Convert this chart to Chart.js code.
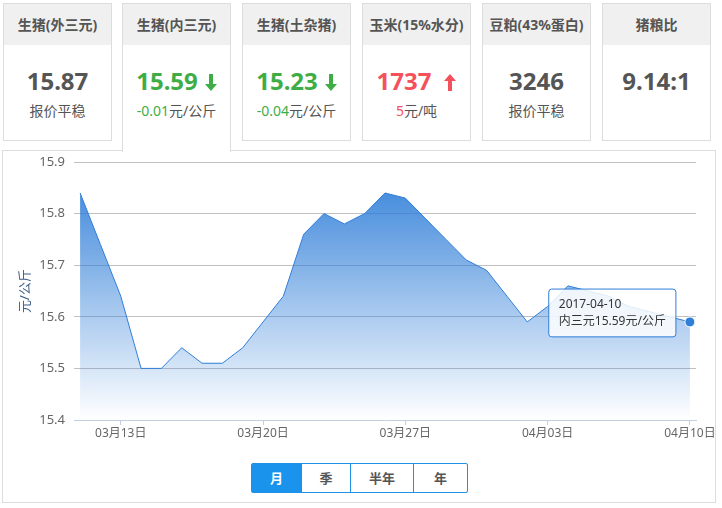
<!DOCTYPE html>
<html>
<head>
<meta charset="utf-8">
<script src="https://cdn.jsdelivr.net/npm/chart.js@4"></script>
<style>
  html, body { margin: 0; padding: 0; background: #fff; }
  body { width: 722px; height: 508px; position: relative; overflow: hidden;
         font-family: 'Noto Sans', 'Noto Sans CJK SC', sans-serif; color: #555; }
  .card { position: absolute; top: 3px; width: 109px; height: 138px; box-sizing: border-box;
          border: 1px solid #ddd; background: #fff; text-align: center; }
  .card.on { height: 149px; border-bottom: none; z-index: 2; }
  .hd { height: 41px; line-height: 41px; background: #f0f0f0; font-weight: bold; font-size: 14px; color: #555; }
  .val { position: absolute; left: 0; right: 0; top: 61px; line-height: 32px; font-size: 24px; font-weight: bold; color: #555; }
  .val svg { display: inline-block; vertical-align: -1px; margin-left: 7px; }
  .sub { position: absolute; left: 0; right: 0; top: 95px; line-height: 24px; font-size: 14px; color: #555; }
  .green { color: #3fad46; }
  .red { color: #f4515c; }
  .panel { position: absolute; left: 2px; top: 150px; width: 714px; height: 353px; box-sizing: border-box;
           border: 1px solid #ddd; overflow: hidden; z-index: 1; }
  .wrap { position: absolute; left: -3px; top: -1px; width: 740px; height: 300px; }
  .btns { position: absolute; left: 248px; top: 312px; display: flex; border: 1px solid #1e90e6; border-radius: 2px; }
  .btns div { height: 28px; line-height: 28px; text-align: center; font-size: 13px; font-weight: bold; color: #555;
              border-left: 1px solid #1e90e6; }
  .btns div:first-child { border-left: none; }
  .btns .act { background: #1a93ec; color: #fff; }
</style>
</head>
<body>
<div class="card" style="left:3px">
  <div class="hd">生猪(外三元)</div>
  <div class="val">15.87</div>
  <div class="sub">报价平稳</div>
</div>
<div class="card on" style="left:122px">
  <div class="hd">生猪(内三元)</div>
  <div class="val green">15.59<svg width="12" height="17" viewBox="0 0 12 17"><path d="M4 0H8V10H12L6 17L0 10H4Z" fill="#3fad46"/></svg></div>
  <div class="sub"><span class="green">-0.01</span>元/公斤</div>
</div>
<div class="card" style="left:242px">
  <div class="hd">生猪(土杂猪)</div>
  <div class="val green">15.23<svg width="12" height="17" viewBox="0 0 12 17"><path d="M4 0H8V10H12L6 17L0 10H4Z" fill="#3fad46"/></svg></div>
  <div class="sub"><span class="green">-0.04</span>元/公斤</div>
</div>
<div class="card" style="left:362px">
  <div class="hd">玉米(15%水分)</div>
  <div class="val red">1737<svg style="margin-left:13px" width="12" height="17" viewBox="0 0 12 17"><path d="M6 0L12 7H8V17H4V7H0Z" fill="#f4515c"/></svg></div>
  <div class="sub"><span class="red">5</span>元/吨</div>
</div>
<div class="card" style="left:482px">
  <div class="hd">豆粕(43%蛋白)</div>
  <div class="val">3246</div>
  <div class="sub">报价平稳</div>
</div>
<div class="card" style="left:602px">
  <div class="hd">猪粮比</div>
  <div class="val">9.14:1</div>
</div>

<div class="panel">
  <div class="wrap"><canvas id="chart" width="740" height="300"></canvas></div>
  <div class="btns">
    <div class="act" style="width:49px">月</div>
    <div style="width:48px">季</div>
    <div style="width:62px">半年</div>
    <div style="width:53px">年</div>
  </div>
</div>

<script>
  // daily price of 内三元 pigs, 2017-03-11 .. 2017-04-10
  const dates = [
    '2017-03-11', '2017-03-12', '2017-03-13', '2017-03-14', '2017-03-15', '2017-03-16',
    '2017-03-17', '2017-03-18', '2017-03-19', '2017-03-20', '2017-03-21', '2017-03-22',
    '2017-03-23', '2017-03-24', '2017-03-25', '2017-03-26', '2017-03-27', '2017-03-28',
    '2017-03-29', '2017-03-30', '2017-03-31', '2017-04-01', '2017-04-02', '2017-04-03',
    '2017-04-04', '2017-04-05', '2017-04-06', '2017-04-07', '2017-04-08', '2017-04-09',
    '2017-04-10'
  ];
  const prices = [
    15.84, 15.74, 15.64, 15.50, 15.50, 15.54,
    15.51, 15.51, 15.54, 15.59, 15.64, 15.76,
    15.80, 15.78, 15.80, 15.84, 15.83, 15.79,
    15.75, 15.71, 15.69, 15.64, 15.59, 15.62,
    15.66, 15.65, 15.64, 15.62, 15.61, 15.60,
    15.59
  ];
  const tickLabels = ['03月13日', '03月20日', '03月27日', '04月03日', '04月10日'];
  const yTicks = [15.4, 15.5, 15.6, 15.7, 15.8, 15.9];

  const blue = '#2f7ed8';
  const last = prices.length - 1;

  // position of each tick label on the day axis
  const tickDays = tickLabels.map(l => dates.indexOf('2017-' + l.slice(0, 2) + '-' + l.slice(3, 5)));

  Chart.defaults.font.family = "'Noto Sans', 'Noto Sans CJK SC', sans-serif";

  Chart.Tooltip.positioners.leftOfPoint = function (items) {
    if (!items.length) return false;
    const el = items[0].element;
    return { x: el.x, y: el.y - 9 };
  };

  const ctx = document.getElementById('chart').getContext('2d');
  const chart = new Chart(ctx, {
    type: 'line',
    data: {
      datasets: [{
        data: prices.map((p, i) => ({ x: i, y: p })),
        borderColor: blue,
        borderWidth: 1,
        tension: 0,
        fill: 'start',
        backgroundColor: function (c) {
          const area = c.chart.chartArea;
          if (!area) return 'rgba(47,126,216,0.5)';
          const g = c.chart.ctx.createLinearGradient(0, area.top, 0, area.bottom);
          g.addColorStop(0, 'rgba(47,126,216,1)');
          g.addColorStop(1, 'rgba(47,126,216,0)');
          return g;
        },
        pointRadius: c => (c.dataIndex === last ? 5 : 0),
        pointHoverRadius: c => (c.dataIndex === last ? 5 : 0),
        pointBackgroundColor: blue,
        pointBorderColor: '#fff',
        pointBorderWidth: 1,
        pointHoverBorderWidth: 1,
        pointHoverBackgroundColor: blue,
        pointHoverBorderColor: '#fff'
      }]
    },
    options: {
      responsive: false,
      animation: false,
      events: [],
      layout: { padding: { top: 12, right: 44, left: 0, bottom: 0 } },
      plugins: {
        legend: { display: false },
        tooltip: {
          position: 'leftOfPoint',
          xAlign: 'right',
          yAlign: 'center',
          caretSize: 0,
          caretPadding: 14,
          backgroundColor: 'rgba(255,255,255,0.85)',
          borderColor: blue,
          borderWidth: 1,
          cornerRadius: 3,
          padding: { top: 8, bottom: 8, left: 10, right: 10 },
          displayColors: false,
          titleColor: '#333',
          bodyColor: '#333',
          titleFont: { size: 12, weight: 'normal' },
          bodyFont: { size: 12 },
          titleMarginBottom: 3,
          callbacks: {
            title: items => dates[items[0].dataIndex],
            label: item => '内三元' + prices[item.dataIndex].toFixed(2) + '元/公斤'
          }
        }
      },
      scales: {
        x: {
          type: 'linear',
          min: -0.3,
          max: last + 0.3,
          afterBuildTicks: s => { s.ticks = tickDays.map(v => ({ value: v })); },
          afterFit: s => { s.height = 30; s.paddingLeft = 0; s.paddingRight = 0; },
          grid: { drawOnChartArea: false, tickLength: 5, color: '#c0d0e0' },
          border: { color: '#c0d0e0' },
          ticks: {
            padding: 1,
            color: '#666',
            font: { size: 12 },
            maxRotation: 0,
            autoSkip: false,
            callback: v => tickLabels[tickDays.indexOf(v)]
          }
        },
        y: {
          min: yTicks[0],
          max: yTicks[yTicks.length - 1],
          afterBuildTicks: s => { s.ticks = yTicks.map(v => ({ value: v })); },
          afterFit: s => { s.width = 74; s.paddingTop = 0; s.paddingBottom = 0; },
          border: { display: false },
          grid: {
            drawTicks: false,
            color: c => (c.tick && c.tick.value === yTicks[0] ? 'rgba(0,0,0,0)' : '#c0c0c0')
          },
          ticks: { padding: 9, color: '#666', font: { size: 13 }, callback: v => v.toFixed(1) },
          title: { display: true, text: '元/公斤', color: '#3f5f86', font: { size: 13 }, padding: { top: 17, bottom: 0 } }
        }
      }
    }
  });

  chart.setActiveElements([{ datasetIndex: 0, index: last }]);
  chart.tooltip.setActiveElements([{ datasetIndex: 0, index: last }], { x: 0, y: 0 });
  chart.update();
</script>
</body>
</html>
